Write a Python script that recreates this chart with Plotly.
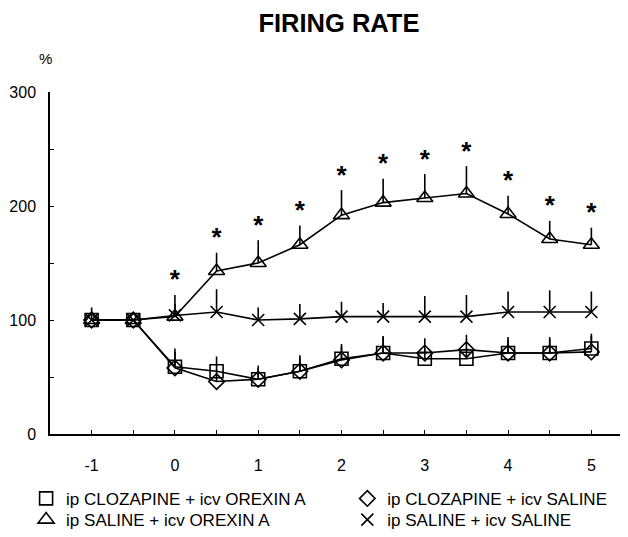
import plotly.graph_objects as go

# ---- data ----
hours = [-1, -0.5, 0, 0.5, 1, 1.5, 2, 2.5, 3, 3.5, 4, 4.5, 5]

clz_orx = [100, 100, 59, 55, 48, 55, 66, 71, 66, 66, 71, 71, 75]
clz_orx_err = [0, 0, 16, 13, 12, 14, 13, 15, 8, 8, 14, 14, 13]

clz_sal = [100, 100, 58, 46, 48, 55, 65, 71, 71, 74, 71, 71, 72]
clz_sal_err = [0, 0, 14, 10, 10, 12, 12, 14, 13, 13, 12, 12, 14]

sal_orx = [100, 100, 103, 143, 150, 166, 192, 203, 207, 211, 193, 171, 166]
sal_orx_err = [0, 0, 19, 16, 20, 17, 22, 21, 21, 24, 16, 16, 15]
sal_orx_sig = [False, False, True, True, True, True, True, True, True, True, True, True, True]

sal_sal = [100, 100, 104, 107, 100, 101, 103, 103, 103, 103, 107, 107, 107]
sal_sal_err = [11, 0, 10, 20, 11, 13, 13, 12, 18, 19, 18, 19, 18]

names = ["ip CLOZAPINE + icv OREXIN A", "ip CLOZAPINE + icv SALINE",
         "ip SALINE + icv OREXIN A", "ip SALINE + icv SALINE"]

x_tick_vals = [-1, -0.5, 0, 0.5, 1, 1.5, 2, 2.5, 3, 3.5, 4, 4.5, 5, 5.5]
x_tick_text = ["-1", "", "0", "", "1", "", "2", "", "3", "", "4", "", "5", "h"]
y_tick_vals = [0, 50, 100, 150, 200, 250, 300]
y_tick_text = ["0", "", "100", "", "200", "", "300"]

FONT = "Liberation Sans, Arial, Helvetica, sans-serif"

series = [
    (clz_orx, clz_orx_err, "square-open", 13, names[0], "legend"),
    (clz_sal, clz_sal_err, "diamond-open", 12, names[1], "legend2"),
    (sal_orx, sal_orx_err, "triangle-up-open", 14, names[2], "legend3"),
    (sal_sal, sal_sal_err, "x-thin-open", 12, names[3], "legend4"),
]

fig = go.Figure()

for vals, errs, sym, size, name, lg in series:
    fig.add_trace(go.Scatter(
        x=hours, y=vals, mode="lines", showlegend=False,
        line=dict(color="black", width=1.6),
        error_y=dict(type="data", symmetric=False, array=errs,
                     arrayminus=[0] * len(errs), width=0,
                     thickness=1.6, color="black"),
        hoverinfo="skip",
    ))

for vals, errs, sym, size, name, lg in series:
    fig.add_trace(go.Scatter(
        x=hours, y=vals, mode="markers", name=name, legend=lg,
        marker=dict(symbol=sym, size=size, color="black",
                    line=dict(color="black", width=1.6)),
    ))

# significance stars above the SALINE + OREXIN A error bars
star_x = [h for h, s in zip(hours, sal_orx_sig) if s]
star_y = [v + e for v, e, s in zip(sal_orx, sal_orx_err, sal_orx_sig) if s]
fig.add_trace(go.Scatter(
    x=star_x, y=star_y, mode="text", text=["*"] * len(star_x),
    textposition="top center", showlegend=False,
    textfont=dict(family=FONT, size=26, color="black", weight="bold"),
    hoverinfo="skip",
))

legend_common = dict(orientation="v", yanchor="top", xanchor="left",
                     font=dict(family=FONT, size=17, color="black"),
                     bgcolor="rgba(0,0,0,0)", itemwidth=30)

col1_x, col2_x = -0.041, 0.510
row1_y, row2_y = -0.137, -0.199

fig.update_layout(
    width=628, height=537,
    margin=dict(l=42, r=3, t=84, b=111, autoexpand=False),
    paper_bgcolor="white", plot_bgcolor="white",
    font=dict(family=FONT, color="black", size=16),
    title=dict(text="<b>FIRING RATE</b>", x=0.527, xanchor="center",
               y=0.972, yanchor="middle", yref="container",
               font=dict(family=FONT, size=25.5, color="black")),
    showlegend=True,
    legend=dict(x=col1_x, y=row1_y, **legend_common),
    legend2=dict(x=col2_x, y=row1_y, **legend_common),
    legend3=dict(x=col1_x, y=row2_y, **legend_common),
    legend4=dict(x=col2_x, y=row2_y, **legend_common),
    annotations=[dict(text="%", xref="paper", yref="paper", x=-0.007, y=1.099,
                      xanchor="center", yanchor="middle", showarrow=False,
                      font=dict(family=FONT, size=15, color="black"))],
)

fig.update_xaxes(
    range=[-1.5, 5.5], showgrid=False, zeroline=False,
    showline=True, linecolor="black", linewidth=1.5,
    ticks="inside", ticklen=4, tickwidth=1.2, tickcolor="black",
    tickmode="array", tickvals=x_tick_vals, ticktext=x_tick_text,
    ticklabelstandoff=16, tickfont=dict(size=16),
)
fig.update_yaxes(
    range=[0, 300], showgrid=False, zeroline=False,
    showline=True, linecolor="black", linewidth=1.5,
    ticks="inside", ticklen=4, tickwidth=1.2, tickcolor="black",
    tickmode="array", tickvals=y_tick_vals, ticktext=y_tick_text,
    ticklabelstandoff=9, tickfont=dict(size=16),
)

fig.write_html("out.html")
